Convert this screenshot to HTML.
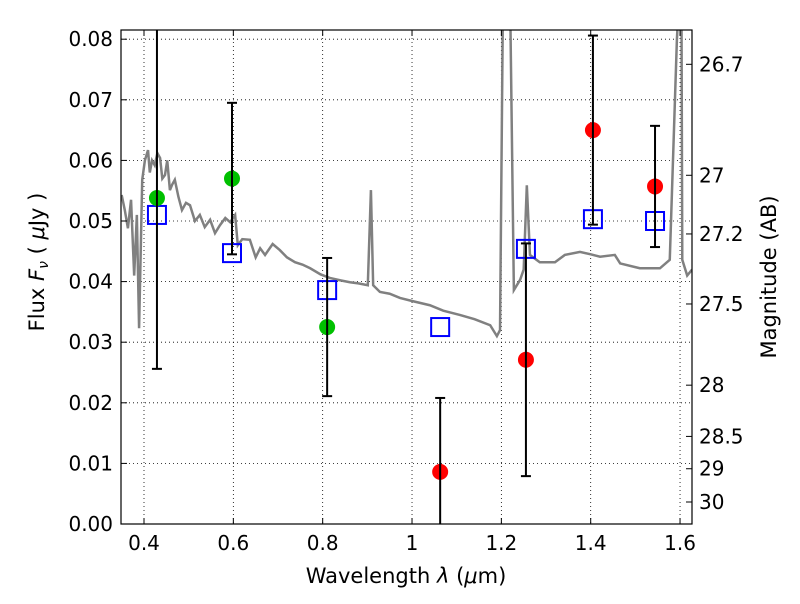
<!DOCTYPE html>
<html><head><meta charset="utf-8"><style>
body{margin:0;background:#fff;font-family:"DejaVu Sans","Liberation Sans",sans-serif}
text{font-family:"DejaVu Sans","Liberation Sans",sans-serif}
</style></head><body>
<svg id="c" width="800" height="600" xmlns="http://www.w3.org/2000/svg"></svg>
<script>
const specLam=[0.35,0.357,0.364,0.371,0.378,0.384,0.389,0.396,0.402,0.409,0.413,0.418,0.424,0.430,0.436,0.441,0.447,0.452,0.458,0.463,0.469,0.477,0.485,0.494,0.503,0.514,0.525,0.536,0.548,0.559,0.570,0.582,0.593,0.604,0.610,0.620,0.637,0.650,0.660,0.671,0.688,0.704,0.720,0.738,0.755,0.772,0.795,0.816,0.840,0.861,0.880,0.901,0.908,0.913,0.928,0.950,0.973,1.000,1.040,1.070,1.107,1.140,1.175,1.190,1.197,1.204,1.219,1.228,1.242,1.250,1.257,1.264,1.286,1.320,1.342,1.376,1.400,1.421,1.454,1.466,1.510,1.555,1.577,1.593,1.600,1.603,1.605,1.616,1.627];
const specFlux=[0.0543,0.0518,0.0488,0.0535,0.041,0.051,0.0323,0.0568,0.0600,0.0617,0.058,0.060,0.0592,0.0612,0.0604,0.0570,0.0576,0.0600,0.0551,0.0560,0.0568,0.0540,0.0518,0.0530,0.0526,0.0500,0.051,0.0490,0.0502,0.0480,0.0493,0.0505,0.0498,0.051,0.046,0.0470,0.0469,0.0440,0.0455,0.0444,0.0462,0.0452,0.0440,0.0432,0.0428,0.0422,0.0412,0.0406,0.0402,0.0399,0.0397,0.0394,0.0551,0.0394,0.0383,0.0380,0.0373,0.0368,0.0361,0.0352,0.0345,0.0338,0.0328,0.031,0.032,0.09,0.09,0.0386,0.0403,0.0420,0.0559,0.0444,0.0432,0.0432,0.0444,0.0449,0.0445,0.0441,0.0444,0.043,0.0422,0.0422,0.0436,0.08,0.09,0.09,0.0436,0.041,0.042];
const greenLam=[0.429,0.597,0.810];
const greenFlux=[0.0538,0.057,0.0325];
const greenErr=[0.0282,0.0125,0.0114];
const redLam=[1.063,1.255,1.405,1.544];
const redFlux=[0.0086,0.0271,0.065,0.0557];
const redErr=[0.0122,0.0192,0.0156,0.010];
const modelLam=[0.429,0.597,0.810,1.063,1.255,1.405,1.544];
const modelFlux=[0.051,0.0447,0.0386,0.0325,0.0454,0.0503,0.050];
const xTicks=[0.4,0.6,0.8,1.0,1.2,1.4,1.6];
const xTickLabels=["0.4","0.6","0.8","1","1.2","1.4","1.6"];
const yTicks=[0,0.01,0.02,0.03,0.04,0.05,0.06,0.07,0.08];
const magTicks=[26.7,27,27.2,27.5,28,28.5,29,30];

const L=121,R=692,T=30,B=524;
const X=v=>144+(v-0.4)*446.7;
const Y=v=>B-v*6060;
const svg=document.getElementById('c');
const NS='http://www.w3.org/2000/svg';
function mk(t,a,p){const e=document.createElementNS(NS,t);for(const k in a)e.setAttribute(k,a[k]);(p||svg).appendChild(e);return e;}
const defs=mk('defs',{});const cp=mk('clipPath',{id:'pc'},defs);mk('rect',{x:L,y:T,width:R-L,height:B-T},cp);
xTicks.forEach(t=>{const g=mk('line',{x1:X(t),x2:X(t),y1:T,y2:B,stroke:'#000','stroke-dasharray':'1,3','stroke-width':0.8});
});
yTicks.forEach(t=>{const g=mk('line',{x1:L,x2:R,y1:Y(t),y2:Y(t),stroke:'#000','stroke-dasharray':'1,3','stroke-width':0.8});
});
const pg=mk('g',{'clip-path':'url(#pc)'});

const sp=mk('polyline',{points:specLam.map((l,i)=>X(l)+','+Y(specFlux[i])).join(' '),fill:'none',stroke:'#808080','stroke-width':2.5},pg);

function err(l,f,e){const x=X(l);const g=mk('g',{},pg);
mk('line',{x1:x,x2:x,y1:Y(f+e),y2:Y(f-e),stroke:'#000','stroke-width':2},g);
mk('line',{x1:x-5,x2:x+5,y1:Y(f+e),y2:Y(f+e),stroke:'#000','stroke-width':2},g);
mk('line',{x1:x-5,x2:x+5,y1:Y(f-e),y2:Y(f-e),stroke:'#000','stroke-width':2},g);return g;}
modelLam.forEach((l,i)=>{const r=mk('rect',{x:X(l)-9,y:Y(modelFlux[i])-9,width:18,height:18,fill:'none',stroke:'#0000ff','stroke-width':2},pg);
});
greenLam.forEach((l,i)=>{const c=mk('circle',{cx:X(l),cy:Y(greenFlux[i]),r:8,fill:'#00c000'},pg);

const e=err(l,greenFlux[i],greenErr[i]);});
redLam.forEach((l,i)=>{const c=mk('circle',{cx:X(l),cy:Y(redFlux[i]),r:8,fill:'#ff0000'},pg);

const e=err(l,redFlux[i],redErr[i]);});
const fr=mk('rect',{x:L,y:T,width:R-L,height:B-T,fill:'none',stroke:'#000','stroke-width':1.2});

xTicks.forEach((t,i)=>{mk('line',{x1:X(t),x2:X(t),y1:B,y2:B-6,stroke:'#000'});mk('line',{x1:X(t),x2:X(t),y1:T,y2:T+6,stroke:'#000'});
const tx=mk('text',{x:X(t),y:B+26,'text-anchor':'middle','font-size':20});tx.textContent=xTickLabels[i];
});
yTicks.forEach(t=>{mk('line',{x1:L,x2:L+6,y1:Y(t),y2:Y(t),stroke:'#000'});
const tx=mk('text',{x:L-8,y:Y(t)+7,'text-anchor':'end','font-size':20});tx.textContent=t.toFixed(2);
});
magTicks.forEach(m=>{const f=Math.pow(10,(23.9-m)/2.5);const y=Y(f);mk('line',{x1:R,x2:R-6,y1:y,y2:y,stroke:'#000'});
const tx=mk('text',{x:R+7,y:y+7,'font-size':20});tx.textContent=String(m);
});
let t=mk('text',{x:406,y:583,'text-anchor':'middle','font-size':21});t.innerHTML='Wavelength  <tspan font-style="italic">λ</tspan> (<tspan font-style="italic">μ</tspan>m)';

t=mk('text',{x:0,y:0,'text-anchor':'middle','font-size':21,transform:'translate(44,262) rotate(-90)'});t.innerHTML='Flux  <tspan font-style="italic">F</tspan><tspan font-style="italic" font-size="14" dy="4">ν</tspan><tspan dy="-4">  (  </tspan><tspan font-style="italic">μ</tspan>Jy )';

t=mk('text',{x:0,y:0,'text-anchor':'middle','font-size':21,transform:'translate(776,277) rotate(-90)'});t.textContent='Magnitude (AB)';

</script>
</body></html>
